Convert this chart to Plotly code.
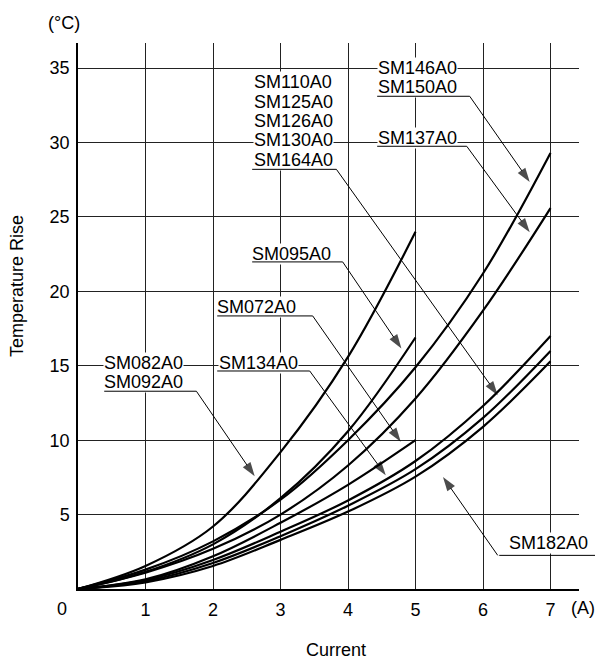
import plotly.graph_objects as go

# ---- data ----
x_to5 = [0, 1, 2, 3, 4, 5]
x_to7 = [0, 1, 2, 3, 4, 5, 6, 7]

sm082_092 = [0, 1.55, 4.2, 9.2, 15.6, 24.0]
sm095 = [0, 1.15, 3.0, 6.1, 10.6, 16.9]
sm072 = [0, 0.65, 2.2, 4.45, 7.0, 10.0]
sm146_150 = [0, 1.3, 3.2, 6.0, 10.0, 14.9, 21.2, 29.3]
sm137 = [0, 1.1, 2.7, 5.0, 8.3, 12.8, 18.7, 25.6]
sm_upper_low = [0, 0.6, 1.95, 3.85, 5.95, 8.6, 12.3, 17.0]
sm_mid_low = [0, 0.52, 1.75, 3.55, 5.6, 8.05, 11.5, 16.0]
sm182 = [0, 0.45, 1.55, 3.3, 5.2, 7.55, 10.9, 15.3]

x_ticks = [1, 2, 3, 4, 5, 6, 7]
y_ticks = [5, 10, 15, 20, 25, 30, 35]

FONT = "Liberation Sans, Arial, sans-serif"
FS = 18

fig = go.Figure()

curves = [
    (x_to5, sm082_092), (x_to5, sm095), (x_to5, sm072),
    (x_to7, sm146_150), (x_to7, sm137), (x_to7, sm_upper_low),
    (x_to7, sm_mid_low), (x_to7, sm182),
]
for xs, ys in curves:
    fig.add_trace(go.Scatter(x=xs, y=ys, mode="lines",
                             line=dict(color="black", width=2.2, shape="spline", smoothing=1.0),
                             hoverinfo="skip", showlegend=False))

# label texts (annotation positions)
labels = [
    ("SM110A0", 2.596, 34.07), ("SM125A0", 2.596, 32.73), ("SM126A0", 2.596, 31.43),
    ("SM130A0", 2.596, 30.15), ("SM164A0", 2.596, 28.86),
    ("SM146A0", 4.425, 34.99), ("SM150A0", 4.425, 33.74),
    ("SM137A0", 4.425, 30.32),
    ("SM095A0", 2.569, 22.54),
    ("SM072A0", 2.04, 18.95),
    ("SM134A0", 2.07, 15.21),
    ("SM082A0", 0.37, 15.19), ("SM092A0", 0.37, 13.91),
    ("SM182A0", 6.37, 3.09),
]
# underlines: (x0, x1, y), leader start (xs, ys), arrow tip (xt, yt)
callouts = [
    ((2.558, 3.828, 28.20), (3.828, 28.20), (6.218, 13.02)),
    ((4.41, 5.803, 33.11), (5.803, 33.11), (6.692, 27.35)),
    ((4.41, 5.759, 29.75), (5.759, 29.75), (6.692, 23.97)),
    ((2.558, 3.921, 21.98), (3.921, 21.98), (4.791, 16.16)),
    ((2.04, 3.477, 18.35), (3.477, 18.35), (4.781, 9.89)),
    ((2.04, 3.433, 14.65), (3.433, 14.65), (4.559, 7.64)),
    ((0.366, 1.754, 13.29), (1.754, 13.29), (2.618, 7.57)),
    ((6.218, 7.66, 2.26), (6.218, 2.26), (5.407, 7.53)),
]

for (ul, st, tip) in callouts:
    fig.add_trace(go.Scatter(x=[st[0], tip[0]], y=[st[1], tip[1]], mode="lines+markers",
                             line=dict(color="black", width=1),
                             marker=dict(symbol="arrow", size=[0, 15], angleref="previous",
                                         color="black", line=dict(width=0)),
                             cliponaxis=False, hoverinfo="skip", showlegend=False))

annotations = []
for txt, x, y in labels:
    annotations.append(dict(text=txt, x=x, y=y, xref="x", yref="y", xanchor="left",
                            yanchor="middle", showarrow=False, bgcolor="white", borderpad=0,
                            font=dict(family=FONT, size=FS, color="black")))
for (ul, st, tip) in callouts:
    annotations.append(dict(text="", x=ul[1], y=ul[2], ax=ul[0], ay=ul[2], xref="x", yref="y",
                            axref="x", ayref="y", showarrow=True, arrowhead=0, arrowwidth=1,
                            arrowcolor="black", standoff=0, startstandoff=0))

def corner(txt, x, y, angle=0):
    return dict(text=txt, x=x, y=y, xref="paper", yref="paper", showarrow=False,
                xanchor="center", yanchor="middle", textangle=angle,
                font=dict(family=FONT, size=FS, color="black"))

annotations += [
    corner("(°C)", -0.028, 1.037),
    corner("0", -0.0325, -0.037),
    corner("(A)", 1.007, -0.0355),
    corner("Current", 0.515, -0.1117),
    corner("Temperature Rise", -0.1218, 0.555, -90),
]

fig.update_layout(
    width=595, height=663,
    margin=dict(l=78, r=16, t=43, b=74),
    paper_bgcolor="white", plot_bgcolor="white",
    showlegend=False, hovermode=False,
    annotations=annotations,
    font=dict(family=FONT, size=FS, color="black"),
)
fig.update_xaxes(range=[0, 7.422], tickvals=x_ticks, ticktext=[str(v) for v in x_ticks],
                 showgrid=True, gridcolor="#222", gridwidth=1, zeroline=False,
                 showline=True, linecolor="black", linewidth=1.5, ticks="",
                 ticklabelstandoff=4, tickfont=dict(family=FONT, size=FS, color="black"))
fig.update_yaxes(range=[0, 36.69], tickvals=y_ticks, ticktext=[str(v) for v in y_ticks],
                 showgrid=True, gridcolor="#222", gridwidth=1, zeroline=False,
                 showline=True, linecolor="black", linewidth=1.5, ticks="",
                 ticklabelstandoff=3, tickfont=dict(family=FONT, size=FS, color="black"))

# remove the browser's default page margin so the 595x663 figure fills the window exactly
fig.write_html("out.html",
               config={"displayModeBar": False},
               post_script="document.body.style.margin='0';document.body.style.overflow='hidden';")
